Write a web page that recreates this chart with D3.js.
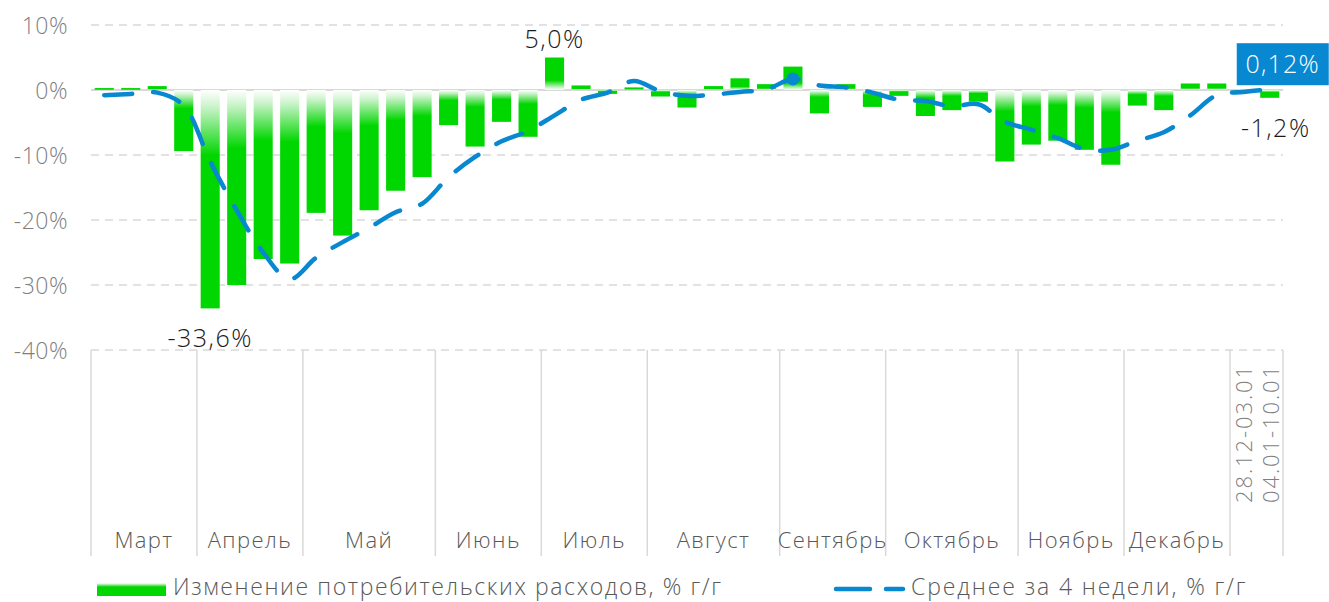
<!DOCTYPE html>
<meta charset="utf-8">
<style>
body { margin: 0; background: #fff; }
text { font-family: "Open Sans", "Noto Sans", sans-serif; font-weight: 300; }
.grid line { stroke: #d9d9d9; stroke-width: 1.5; stroke-dasharray: 8,6; }
.sep { stroke: #d9d9d9; stroke-width: 1.5; }
</style>
<svg width="1329" height="602"></svg>
<script src="https://d3js.org/d3.v7.min.js"></script>
<script>

// weekly change in consumer spending, % y/y
var spending = [0.3, 0.3, 0.6, -9.4, -33.6, -30.0, -26.0, -26.7, -18.9, -22.4,
  -18.5, -15.5, -13.4, -5.4, -8.7, -4.9, -7.2, 5.0, 0.7, -0.6,
  0.4, -1.0, -2.7, 0.6, 1.8, 0.9, 3.6, -3.6, 0.9, -2.6,
  -0.9, -4.0, -3.1, -1.8, -11.0, -8.4, -7.8, -9.2, -11.5, -2.4,
  -3.1, 1.0, 1.0, -0.3, -1.2];

// 4-week average, % y/y
var average = [-0.8, -0.6, -0.4, -2.4, -11.0, -18.5, -25.0, -29.1, -25.8, -23.4,
  -21.2, -18.8, -17.5, -13.4, -10.3, -7.9, -6.3, -3.9, -1.5, -0.4,
  1.4, -0.2, -0.9, -0.7, -0.3, 0.1, 1.7, 0.7, 0.4, -0.4,
  -1.5, -1.7, -2.5, -2.2, -4.9, -6.1, -7.4, -9.1, -9.2, -7.8,
  -6.5, -3.9, -0.8, -0.3, 0.12];

var months = ["Март", "Апрель", "Май", "Июнь", "Июль", "Август",
  "Сентябрь", "Октябрь", "Ноябрь", "Декабрь"];
var monthWeeks = [4, 4, 5, 4, 4, 5, 4, 5, 4, 4];
var lastWeeks = ["28.12-03.01", "04.01-10.01"];

var yTicks = [10, 0, -10, -20, -30, -40];

var barLabels = [
  {i: 4, text: "-33,6%"},
  {i: 17, text: "5,0%"},
  {i: 44, text: "-1,2%"}
];
var avgLabel = {i: 44, text: "0,12%"};
var avgMarker = 26;

var svg = d3.select("svg");

var x = d3.scaleBand()
  .domain(d3.range(spending.length))
  .range([91, 1283])
  .paddingInner(0.28)
  .paddingOuter(0.14);

var y = d3.scaleLinear()
  .domain([-40, 10])
  .range([350, 25]);

var cx = function(i) { return x(i) + x.bandwidth() / 2; };
var slotEdge = function(k) { return x.range()[0] + k * x.step(); };

// gradient: white at zero line, green away from it
var defs = svg.append("defs");
function grad(id, y1, y2) {
  var g = defs.append("linearGradient").attr("id", id)
    .attr("x1", 0).attr("x2", 0).attr("y1", y1).attr("y2", y2);
  g.append("stop").attr("offset", "0%").attr("stop-color", "#ffffff");
  g.append("stop").attr("offset", "8%").attr("stop-color", "#c8f3c8");
  g.append("stop").attr("offset", "30%").attr("stop-color", "#00d600");
  g.append("stop").attr("offset", "100%").attr("stop-color", "#00d600");
}
grad("gNeg", 0, 1);
grad("gPos", 1, 0);
grad("gLegend", 0, 1);

// grid
svg.append("g")
  .attr("class", "grid")
  .selectAll("line")
  .data(yTicks.filter(function(d) { return d != 0; }))
  .enter().append("line")
    .attr("x1", 91).attr("x2", 1283)
    .attr("y1", function(d) { return y(d); })
    .attr("y2", function(d) { return y(d); });

svg.append("line")
  .attr("x1", 91).attr("x2", 1283)
  .attr("y1", y(0)).attr("y2", y(0))
  .attr("stroke", "#d9d9d9").attr("stroke-width", 2);

// y axis
var yAxis = svg.append("g")
  .attr("transform", "translate(68,0)")
  .call(d3.axisLeft(y).tickValues(yTicks).tickSize(0).tickPadding(0)
    .tickFormat(function(d) { return d + "%"; }));
yAxis.select(".domain").remove();
yAxis.selectAll("text")
  .attr("fill", "#7f7f7f")
  .attr("dy", "0.36em")
  .style("font-size", "23px")
  .style("letter-spacing", "0.5px")
  .style("font-family", null);

// category axis: separators and month labels
var cum = [0];
monthWeeks.forEach(function(n) { cum.push(cum[cum.length - 1] + n); });

var seps = cum.concat([spending.length]);
svg.append("g")
  .selectAll("line")
  .data(seps)
  .enter().append("line")
    .attr("class", "sep")
    .attr("x1", function(k) { return slotEdge(k); })
    .attr("x2", function(k) { return slotEdge(k); })
    .attr("y1", 350).attr("y2", 556);

svg.append("g")
  .selectAll("text")
  .data(months)
  .enter().append("text")
    .attr("x", function(d, i) { return (slotEdge(cum[i]) + slotEdge(cum[i + 1])) / 2; })
    .attr("y", 548)
    .attr("text-anchor", "middle")
    .attr("fill", "#595959")
    .style("font-size", "22px")
    .style("letter-spacing", "1.4px")
    .text(function(d) { return d; });

svg.append("g")
  .selectAll("text")
  .data(lastWeeks)
  .enter().append("text")
    .attr("transform", function(d, i) {
      return "translate(" + (cx(cum[cum.length - 1] + i) + 9) + ",364) rotate(-90)";
    })
    .attr("text-anchor", "end")
    .attr("fill", "#7f7f7f")
    .style("font-size", "22px")
    .style("letter-spacing", "1.9px")
    .text(function(d) { return d; });

// bars
svg.append("g")
  .selectAll("rect")
  .data(spending)
  .enter().append("rect")
    .attr("x", function(d, i) { return x(i); })
    .attr("width", x.bandwidth())
    .attr("y", function(d) { return y(Math.max(0, d)); })
    .attr("height", function(d) { return Math.abs(y(d) - y(0)); })
    .attr("fill", function(d) { return d < 0 ? "url(#gNeg)" : "url(#gPos)"; });

// 4-week average
var line = d3.line()
  .x(function(d, i) { return cx(i); })
  .y(function(d) { return y(d); })
  .curve(d3.curveCatmullRom);

svg.append("path")
  .datum(average)
  .attr("d", line)
  .attr("fill", "none")
  .attr("stroke", "#0788d0")
  .attr("stroke-width", 4.5)
  .attr("stroke-linecap", "round")
  .attr("stroke-dasharray", "28,21");

svg.append("circle")
  .attr("cx", cx(avgMarker))
  .attr("cy", y(average[avgMarker]))
  .attr("r", 6.5)
  .attr("fill", "#0788d0");

// labels
svg.append("g")
  .selectAll("text")
  .data(barLabels)
  .enter().append("text")
    .attr("x", function(d) { return cx(d.i) + (d.i == 44 ? 6 : 0); })
    .attr("y", function(d) {
      var v = spending[d.i];
      return v >= 0 ? y(v) - 10 : y(v) + 39;
    })
    .attr("text-anchor", "middle")
    .attr("fill", "#1a1a1a")
    .style("font-size", "25px")
    .style("letter-spacing", "1.5px")
    .text(function(d) { return d.text; });

var bx = cx(avgLabel.i) + 13, by = y(average[avgLabel.i]) - 25;
svg.append("rect")
  .attr("x", bx - 46).attr("y", by - 21)
  .attr("width", 92).attr("height", 42)
  .attr("fill", "#0788d0");
svg.append("text")
  .attr("x", bx).attr("y", by + 9)
  .attr("text-anchor", "middle")
  .attr("fill", "#fff")
  .style("font-size", "25px")
  .style("letter-spacing", "1.2px")
  .text(avgLabel.text);

// legend
var lg = svg.append("g").attr("transform", "translate(0,589)");
lg.append("rect")
  .attr("x", 97).attr("y", -6).attr("width", 69).attr("height", 13)
  .attr("fill", "url(#gLegend)");
lg.append("text")
  .attr("x", 173).attr("y", 6)
  .attr("fill", "#595959")
  .style("font-size", "23px")
  .style("letter-spacing", "1.6px")
  .text("Изменение потребительских расходов, % г/г");
lg.append("line")
  .attr("x1", 836).attr("x2", 903)
  .attr("y1", 0).attr("y2", 0)
  .attr("stroke", "#0788d0")
  .attr("stroke-width", 4.5)
  .attr("stroke-linecap", "round")
  .attr("stroke-dasharray", "34,16");
lg.append("text")
  .attr("x", 911).attr("y", 6)
  .attr("fill", "#595959")
  .style("font-size", "23px")
  .style("letter-spacing", "1.9px")
  .text("Среднее за 4 недели, % г/г");

</script>
